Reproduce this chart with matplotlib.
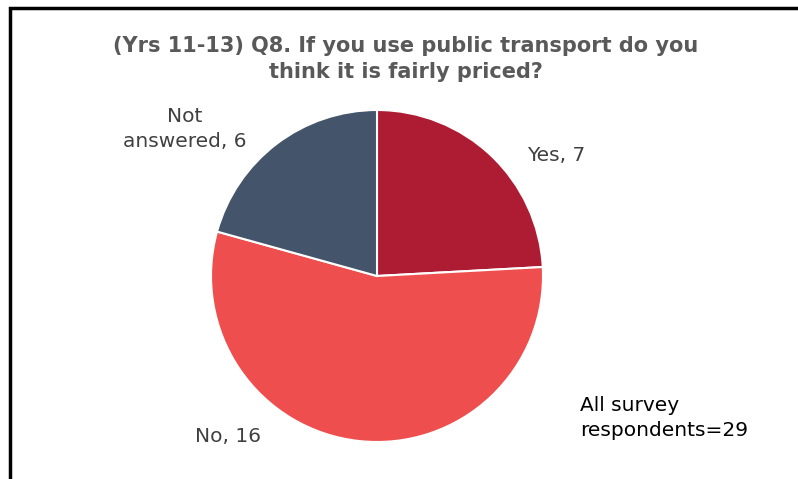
import matplotlib.pyplot as plt
from matplotlib.patches import Rectangle

labels = ['Yes', 'No', 'Not answered']
counts = [7, 16, 6]
colors = ['#AE1C33', '#EE4F4E', '#44546A']
total = 29

W, H = 798, 479
fig = plt.figure(figsize=(W / 100, H / 100), dpi=100)

# pie centre and radius in pixels
cx, cy, r = 377, 276, 166
ax = fig.add_axes([(cx - r) / W, (H - cy - r) / H, 2 * r / W, 2 * r / H])
ax.pie(counts, colors=colors, startangle=90, counterclock=False,
       wedgeprops={'edgecolor': 'white', 'linewidth': 1.5})
ax.set_xlim(-1, 1)
ax.set_ylim(-1, 1)
ax.set_aspect('auto')

# frame around the chart
fig.add_artist(Rectangle((10 / W, -0.1), 1.2, (H - 8) / H + 0.1, transform=fig.transFigure,
                         fill=False, edgecolor='black', linewidth=2.5))

fig.text(406 / W, 1 - 59 / H, '(Yrs 11-13) Q8. If you use public transport do you\nthink it is fairly priced?',
         ha='center', va='center', fontsize=15, fontweight='bold', color='#595959', linespacing=1.35)

lbl = dict(fontsize=14.5, color='#404040', ha='center', va='center', linespacing=1.4)
fig.text(556 / W, 1 - 155 / H, f'{labels[0]}, {counts[0]}', **lbl)
fig.text(228 / W, 1 - 437 / H, f'{labels[1]}, {counts[1]}', **lbl)
fig.text(185 / W, 1 - 129 / H, f'Not\nanswered, {counts[2]}', **lbl)
fig.text(580 / W, 1 - 418 / H, f'All survey\nrespondents={total}', fontsize=14.5, color='black',
         ha='left', va='center', linespacing=1.35)

fig.savefig('out.png', dpi=100)
